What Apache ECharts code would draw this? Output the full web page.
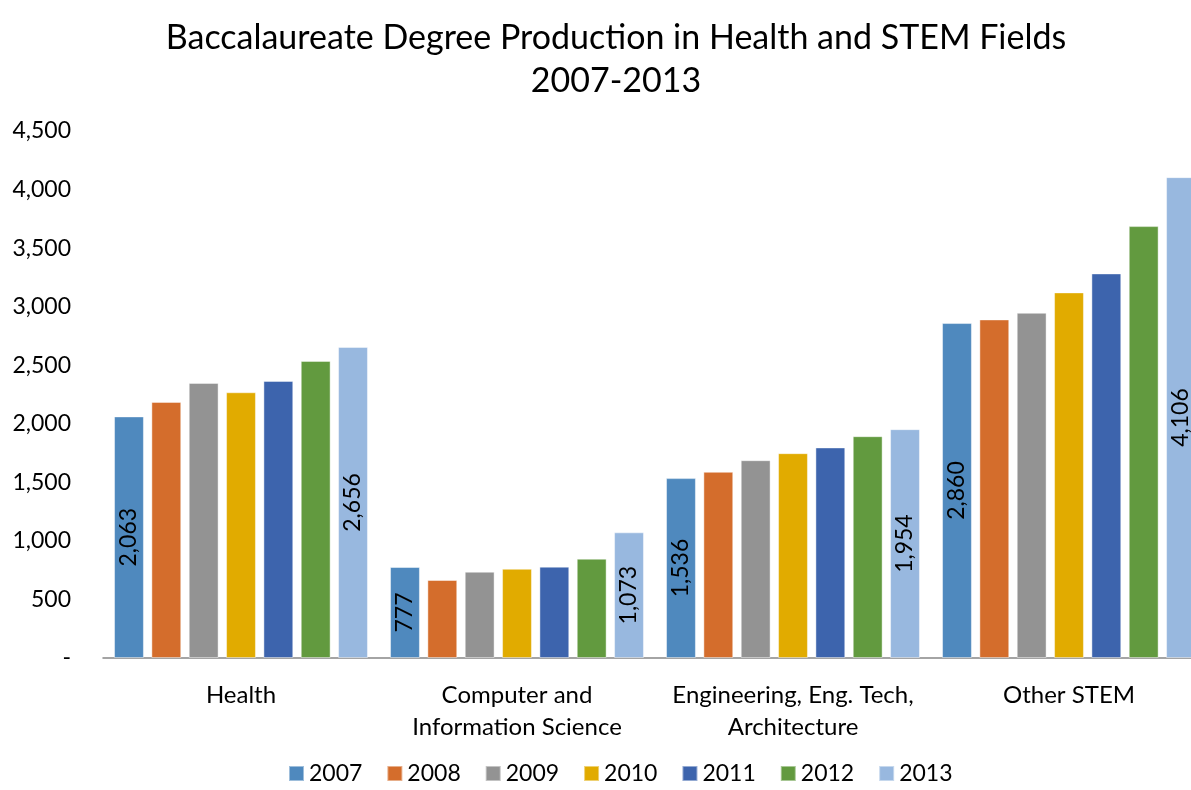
<!DOCTYPE html>
<html>
<head>
<meta charset="utf-8">
<script src="https://cdn.jsdelivr.net/npm/echarts@6/dist/echarts.min.js"></script>
<style>
    html, body { margin: 0; padding: 0; background: #fff; }
    #chart { width: 1191px; height: 790px; }
</style>
</head>
<body>
<div id="chart"></div>
<script>
    // data
    var categories = ['Health', 'Computer and\nInformation Science', 'Engineering, Eng. Tech,\nArchitecture', 'Other STEM'];
    var years = ['2007', '2008', '2009', '2010', '2011', '2012', '2013'];
    var v2007 = [2063, 777, 1536, 2860];
    var v2008 = [2187, 666, 1590, 2891];
    var v2009 = [2349, 737, 1689, 2948];
    var v2010 = [2269, 762, 1749, 3122];
    var v2011 = [2366, 780, 1798, 3284];
    var v2012 = [2537, 848, 1894, 3688];
    var v2013 = [2656, 1073, 1954, 4106];
    var yTicks = [0, 500, 1000, 1500, 2000, 2500, 3000, 3500, 4000, 4500];

    var values = [v2007, v2008, v2009, v2010, v2011, v2012, v2013];
    var colors = ['#4F89BE', '#D46D2C', '#939393', '#E1AB00', '#3D64AD', '#629A3F', '#98B8DF'];
    var font = 'Lato, "Open Sans", sans-serif';

    function fmt(v) {
        return v === 0 ? '-' : v.toLocaleString('en-US');
    }

    var series = years.map(function (y, i) {
        var showLabel = (i === 0 || i === years.length - 1);
        return {
            name: y,
            type: 'bar',
            data: values[i],
            barGap: '25%',
            barCategoryGap: '8%',
            itemStyle: {color: colors[i], borderColor: 'rgba(255,255,255,0.45)', borderWidth: 1},
            label: {
                show: showLabel,
                position: 'inside',
                rotate: 90,
                color: '#000',
                fontSize: 23,
                fontFamily: font,
                formatter: function (p) { return fmt(p.value); }
            }
        };
    });

    var option = {
        animation: false,
        color: colors,
        title: {
            text: 'Baccalaureate Degree Production in Health and STEM Fields\n2007-2013',
            left: 611,
            textAlign: 'center',
            top: 12,
            textStyle: {color: '#000', fontSize: 34, fontWeight: 'normal', fontFamily: font, lineHeight: 43}
        },
        legend: {
            bottom: 0,
            left: 283,
            itemWidth: 15,
            itemHeight: 15,
            itemGap: 24,
            icon: 'rect',
            textStyle: {color: '#000', fontSize: 23, fontFamily: font}
        },
        grid: {
            left: 103,
            width: 1104,
            top: 131,
            bottom: 132,
            containLabel: false,
            outerBoundsMode: 'none'
        },
        xAxis: {
            type: 'category',
            data: categories,
            axisLine: {lineStyle: {color: '#868686', width: 1.5}},
            axisTick: {show: false},
            axisLabel: {color: '#000', fontSize: 24, fontFamily: font, lineHeight: 32, margin: 21, interval: 0}
        },
        yAxis: {
            type: 'value',
            min: yTicks[0],
            max: yTicks[yTicks.length - 1],
            interval: 500,
            splitLine: {show: false},
            axisLine: {show: false},
            axisTick: {show: false},
            axisLabel: {color: '#000', fontSize: 23, fontFamily: font, margin: 32, formatter: fmt}
        },
        series: series
    };

    var myChart = echarts.init(document.getElementById('chart'));
    myChart.setOption(option);
</script>
</body>
</html>
